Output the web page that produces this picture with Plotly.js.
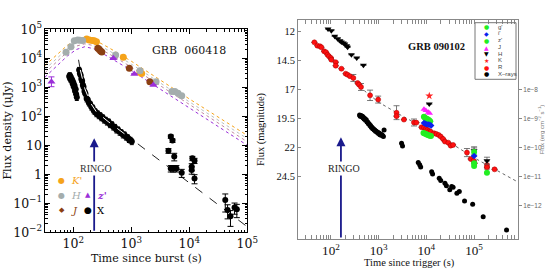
<!DOCTYPE html>
<html><head><meta charset="utf-8">
<script src="https://cdn.plot.ly/plotly-3.0.1.min.js"></script>
<style>html,body{margin:0;padding:0;background:#fff}#chart{width:545px;height:273px}</style>
</head><body><div id="chart"></div>
<script>
// ================= GRB 060418 (left panel), flux density in microJy =================
const kT = [170,189,213,230,251,728,1410,1510];
const kF = [46000,43000,41000,40000,37500,10800,3300,3000];
const hT = [75,91,104,119,130,145,537,1410,2670,5000,5650,6400,7400];
const hF = [16100,25000,40000,43000,42000,41000,13000,3700,1550,710,710,620,510];
const jT = [265,280,295,310,925,2090];
const jF = [22000,20000,18000,16500,4500,1550];
const zT = [42,490,1125,2400];
const zF = [1550,10000,2900,1200];
const zErrPlus = [740,0,0,0];
const zErrMinus = [500,0,0,0];
// X-ray early (prompt tail + flare + decay)
const xeT = [85,87,89,91,93,96,98,100,102,105,107,110,112,115,126,130,134,138,142,146,150,156,162,170,178,186,195,205,215,226,238,250,262,275,290,305,320,340,360,380,405,430,460,490,520,555,590,630,670,715,760,810,860,910,960,1020];
const xeF = [2340,2600,1950,2200,1700,1800,1300,1450,1050,1150,740,850,580,450,3980,3000,2600,1900,1650,1200,1050,720,600,400,370,290,270,210,200,155,148,124,126,106,108,90,92,75,76,64,66,52,53,43,43,34,35,28.5,28,23,23.5,19.5,19,16,15.5,13.5];
// X-ray late
const xlT = [4370,4800,5130,5500,4790,5250,6000,7400,11300,12300,11000,11000,12300,41700,45700,51300,60300,66000];
const xlF = [6.5,20,14.5,4.1,1.6,1.6,1.6,1.13,3.55,2.95,1.82,1.41,0.72,0.13,0.059,0.036,0.072,0.062];
const xlErr = [1.2,2.5,2,1.2,0.4,0.4,0.4,0.35,0.6,0.6,0.5,0.4,0.25,0.08,0.03,0.02,0.03,0.03];
// Model curves
const modelT = [32.5,50,79,112,158,224,398,1000,10000,100000];
const modelK = [5620,12600,28200,44700,53700,44700,24000,7940,398,21.9];
const modelH = [4170,9550,21400,33900,41700,35500,19100,6310,316,17.0];
const modelJ = [3160,7240,16600,26300,31600,27500,14800,5010,251,13.2];
const modelZ = [2240,5250,12000,20000,25100,21400,11500,3800,191,10];
const xModelT = [123,132,158,200,251,398,631,1000,10000,100000];
const xModelF = [8910,3980,891,282,141,66,33,16.6,0.5,0.0155];
const ringoLeftT = 229, ringoLeftTop = 17.4, ringoLeftBottom = 0.01;

// ================= GRB 090102 (right panel), magnitudes =================
const rT = [45,52,59,63,72,79,85,91,100,102,126,126,166,204,224,251,295,363,389,427,661,977,2370,2370,3390,5500,6170,7940,8910,9770,10500,11500,12300,14500,16200,18200,20000,22400,24500,28800,32400,36300,70800,85100,97700,102000,186000,186000,269000];
const rM = [12.92,13.21,13.26,13.35,13.69,13.78,13.99,14.13,14.27,14.42,14.64,14.94,15.2,15.63,15.72,15.85,16.0,16.43,16.58,16.78,17.5,17.87,19.0,19.3,19.6,19.85,19.86,20.26,20.29,20.40,20.49,20.58,20.64,20.78,20.84,20.93,21.07,21.27,21.5,21.59,21.85,21.79,22.45,23.0,23.15,23.37,23.52,23.72,23.9];
const rErr = [0,0,0,0,0,0,0,0,0,0,0,0,0,0,0,0,0.3,0,0,0.3,0.45,0.3,0.6,0,0,0.3,0,0,0,0,0,0,0,0,0,0,0,0,0,0,0,0,0.35,0,0,0,0.35,0,0];
const hRT = [87,102,120,138,155,166,182,195,214,224,269,347,479,11500,100000,186000];
const hRM = [11.77,11.91,12.40,12.60,12.78,12.89,12.98,13.06,13.21,13.35,13.99,14.27,14.9,18.25,22.3,23.15];
const hRErr = [0,0,0,0,0,0,0,0,0,0,0,0,0,0,0.35,0.3];
const kRT = [11500];
const kRM = [17.55];
const jRT = [8910,9770,11000,11700];
const jRM = [18.70,18.82,18.96,19.05];
const zRT = [8900,9300,9800,10300,10800,11400,12000,100000];
const zRM = [19.35,19.45,19.5,19.55,19.6,19.65,19.75,22.4];
const zRErr = [0,0,0,0,0,0,0,0.35];
const iRT = [8900,9500,10200,11000,11800,12600,100000];
const iRM = [19.9,19.95,20.0,20.02,20.05,20.1,22.75];
const gRT = [8700,9200,9800,10400,11100,11800,12500,100000,100000,186000];
const gRM = [20.75,20.8,20.85,20.9,20.95,21.0,21.02,23.37,23.6,24.2];
// X-rays, erg cm^-2 s^-1
const xrT = [398,410,427,440,457,470,479,495,513,530,550,570,589,610,631,655,676,700,724,750,776,805,832,860,891,925,955,990,1023,1060,1096,1135,1175,1215,1259,1300,3020,3160,6760,7240,7590,12900,13500,18600,20000,24500,26300,30900,33900,36300,43600,49000,63100,93300,155000,479000];
const xrF = [1.32e-9,1.20e-9,1.26e-9,1.15e-9,1.20e-9,1.05e-9,1.10e-9,9.55e-10,1.0e-9,8.7e-10,9.1e-10,7.6e-10,7.6e-10,6.6e-10,6.6e-10,5.75e-10,5.75e-10,5.0e-10,5.0e-10,4.37e-10,4.37e-10,3.98e-10,3.98e-10,3.63e-10,3.63e-10,3.31e-10,3.31e-10,3.02e-10,3.16e-10,2.75e-10,2.88e-10,2.63e-10,2.75e-10,2.51e-10,2.40e-10,4.0e-10,1.38e-10,1.12e-10,3.0e-11,2.5e-11,2.1e-11,1.45e-11,1.2e-11,8.5e-12,7.1e-12,5.75e-12,4.7e-12,3.4e-12,4.4e-12,4.2e-12,2.6e-12,3.0e-12,1.4e-12,1.07e-12,4.0e-13,1.4e-13];
const rModelT = [224,501,1000,3160,10000,31600,100000,832000];
const rModelM = [15.55,17.1,18.1,19.3,20.4,21.6,22.9,25.0];
const ringoRightT = 162, ringoRightTop = 21.13, ringoRightBottom = 29.92;
const magTicks = [12,14.5,17,19.5,22,24.5];
const fluxTicks = [1e-8,1e-9,1e-10,1e-11,1e-12];
const fluxTickText = ['1e\u22128','1e\u22129','1e\u221210','1e\u221211','1e\u221212'];

// ================= colours =================
const cK = '#f5a31a', cH = '#a4adad', cJ = '#8b3f12', cZ = '#9b2fd8';
const navy = '#1a1a8c';

const L = (t, f, color, dash, width) => ({x:t, y:f, xaxis:'x', yaxis:'y', mode:'lines', type:'scatter', line:{color:color, dash:dash, width:width||1}, hoverinfo:'skip'});
const traces = [
  L(modelT, modelK, cK, 'dot'),
  L(modelT, modelH, '#b9c1c1', 'dot'),
  L(modelT, modelJ, '#c08aa0', 'dot'),
  L(modelT, modelZ, cZ, 'dot'),
  L(xModelT, xModelF, '#222', 'dash'),
  {x:kT, y:kF, xaxis:'x', yaxis:'y', mode:'markers', type:'scatter', marker:{color:cK, size:7}},
  {x:hT, y:hF, xaxis:'x', yaxis:'y', mode:'markers', type:'scatter', marker:{color:cH, size:7}},
  {x:jT, y:jF, xaxis:'x', yaxis:'y', mode:'markers', type:'scatter', marker:{color:cJ, size:7}},
  {x:zT, y:zF, xaxis:'x', yaxis:'y', mode:'markers', type:'scatter', marker:{color:cZ, size:7, symbol:'triangle-up'},
   error_y:{type:'data', symmetric:false, array:zErrPlus, arrayminus:zErrMinus, color:cZ, thickness:1, width:3}},
  {x:xeT, y:xeF, xaxis:'x', yaxis:'y', mode:'markers', type:'scatter', marker:{color:'#000', size:6},
   error_y:{type:'percent', value:22, color:'#000', thickness:1, width:2}},
  {x:xlT, y:xlF, xaxis:'x', yaxis:'y', mode:'markers', type:'scatter', marker:{color:'#000', size:6},
   error_y:{type:'data', array:xlErr, color:'#000', thickness:1, width:3}},
  L(xModelT.slice(1,8), xModelF.slice(1,8), '#ffffff', 'dash'),
  // right panel
  {x:rModelT, y:rModelM, xaxis:'x2', yaxis:'y2', mode:'lines', type:'scatter', line:{color:'#666', dash:'dot', width:1}},
  {x:xrT, y:xrF, xaxis:'x2', yaxis:'y3', mode:'markers', type:'scatter', marker:{color:'#000', size:5}},
  {x:rT, y:rM, xaxis:'x2', yaxis:'y2', mode:'markers', type:'scatter', marker:{color:'#ff1010', size:5, line:{color:'#a00', width:0.5}},
   error_y:{type:'data', array:rErr, color:'#555', thickness:0.8, width:3}},
  {x:hRT, y:hRM, xaxis:'x2', yaxis:'y2', mode:'markers', type:'scatter', marker:{color:'#000', size:6, symbol:'triangle-down'},
   error_y:{type:'data', array:hRErr, color:'#555', thickness:0.8, width:3}},
  {x:gRT, y:gRM, xaxis:'x2', yaxis:'y2', mode:'markers', type:'scatter', marker:{color:'#22ee22', size:6}},
  {x:zRT, y:zRM, xaxis:'x2', yaxis:'y2', mode:'markers', type:'scatter', marker:{color:'#22ee22', size:6},
   error_y:{type:'data', array:zRErr, color:'#555', thickness:0.8, width:3}},
  {x:iRT, y:iRM, xaxis:'x2', yaxis:'y2', mode:'markers', type:'scatter', marker:{color:'#0a20ee', size:5, symbol:'diamond'}},
  {x:jRT, y:jRM, xaxis:'x2', yaxis:'y2', mode:'markers', type:'scatter', marker:{color:'#ff22ff', size:6, symbol:'triangle-up'}},
  {x:kRT, y:kRM, xaxis:'x2', yaxis:'y2', mode:'markers', type:'scatter', marker:{color:'#ff2222', size:6, symbol:'star'}}
];

const fL = 'DejaVu Serif', fR = 'Liberation Serif';
const P = (px) => px/545, Q = (py) => 1 - py/273;
const ann = [];
const txt = (px, py, text, opt) => ann.push(Object.assign({xref:'paper', yref:'paper', x:P(px), y:Q(py), text:text, showarrow:false, xanchor:'center', yanchor:'middle'}, opt));
// axis titles
txt(8, 130.6, 'Flux density (\u03bcJy)', {textangle:-90, font:{family:fL, size:11, color:'#111'}});
txt(146.5, 258, 'Time since burst (s)', {font:{family:fL, size:11, color:'#111'}});
txt(189, 50.5, 'GRB  060418', {font:{family:fL, size:11, color:'#111'}});
txt(409, 262.5, 'Time since trigger (s)', {font:{family:fR, size:10.5, color:'#111'}});
txt(436, 46, '<b>GRB 090102</b>', {font:{family:fR, size:10.5, color:'#111'}});
// RINGO arrows
ann.push({xref:'x', yref:'y', axref:'x', ayref:'y', x:Math.log10(ringoLeftT), y:Math.log10(ringoLeftTop), ax:Math.log10(ringoLeftT), ay:Math.log10(ringoLeftBottom), text:'', showarrow:true, arrowhead:2, arrowsize:1, arrowwidth:1.8, arrowcolor:navy});
ann.push({xref:'x2', yref:'y2', axref:'x2', ayref:'y2', x:Math.log10(ringoRightT), y:ringoRightTop, ax:Math.log10(ringoRightT), ay:ringoRightBottom, text:'', showarrow:true, arrowhead:2, arrowsize:1, arrowwidth:1.8, arrowcolor:navy});
txt(96.3, 168.3, 'RINGO', {bgcolor:'#fff', font:{family:fR, size:10, color:'#333'}});
txt(344.3, 168.3, 'RINGO', {bgcolor:'#fff', font:{family:fR, size:10, color:'#222'}});
// left legend
txt(61.7, 180.7, '\u25cf', {font:{family:'DejaVu Sans', size:8, color:cK}});
txt(68.5, 180.7, "<i>K'</i>", {xanchor:'left', font:{family:fL, size:10, color:cK}});
txt(61.7, 195, '\u25cf', {font:{family:'DejaVu Sans', size:8, color:cH}});
txt(68.5, 195, '<i>H</i>', {xanchor:'left', font:{family:fL, size:10, color:cH}});
txt(61.7, 210, '\u25c6', {font:{family:'DejaVu Sans', size:7, color:cJ}});
txt(68.5, 210, '<i>J</i>', {xanchor:'left', font:{family:fL, size:10, color:cJ}});
txt(88.3, 194.5, '\u25b2', {font:{family:'DejaVu Sans', size:7, color:cZ}});
txt(94.5, 195, "<b><i>z'</i></b>", {xanchor:'left', font:{family:fL, size:10, color:cZ}});
txt(88.3, 210, '\u25cf', {font:{family:'DejaVu Sans', size:9, color:'#000'}});
txt(95, 210, 'X', {xanchor:'left', font:{family:fL, size:10, color:'#000'}});
// right legend
const legSym = ['\u25cf','\u25c6','\u25cf','\u25b2','\u25bc','\u2605','\u25cf','\u25cf'];
const legCol = ['#22ee22','#0a20ee','#22ee22','#ff22ff','#000','#ff2222','#ff1010','#000'];
const legTxt = ["g'","i'","z'",'J','H','K','R','X\u2013rays'];
const legY = [26.7,33.3,40,47,53.7,60.3,67,74];
for (let i=0;i<legTxt.length;i++){
  txt(486.7, legY[i], legSym[i], {font:{family:'DejaVu Sans', size:6, color:legCol[i]}});
  txt(495.5, legY[i], legTxt[i], {xanchor:'left', font:{family:'Liberation Sans', size:6, color:'#444'}});
}

const axL = {type:'log', dtick:1, exponentformat:'power', ticks:'inside', ticklen:5, tickwidth:1, tickcolor:'#000',
  showline:true, linecolor:'#000', linewidth:1, mirror:'allticks', showgrid:false, zeroline:false,
  tickfont:{family:fL, size:10, color:'#111'},
  minor:{ticks:'inside', ticklen:2.5, dtick:'D1', tickcolor:'#000', showgrid:false}};
const gray = '#888';
const layout = {
  width:545, height:273, margin:{l:0,r:0,t:0,b:0}, paper_bgcolor:'#fff', plot_bgcolor:'#fff', showlegend:false,
  shapes:[{type:'rect', xref:'paper', yref:'paper', x0:P(475), x1:P(516), y0:Q(79.3), y1:Q(22.7), line:{color:'#777', width:1}, fillcolor:'rgba(255,255,255,0)'}],
  xaxis: Object.assign({}, axL, {domain:[P(45), P(247.3)], range:[1.512, 5.0], anchor:'y'}),
  yaxis: Object.assign({}, axL, {domain:[Q(232.3), Q(29.3)], range:[-2, 5], anchor:'x'}),
  xaxis2: {type:'log', domain:[P(298), P(518)], range:[1.31, 5.92], anchor:'y2', dtick:1, exponentformat:'power',
    ticks:'inside', ticklen:4, tickcolor:gray, showline:true, linecolor:gray, linewidth:1, mirror:'allticks', showgrid:false, zeroline:false,
    tickfont:{family:fR, size:10.5, color:'#111'},
    minor:{ticks:'inside', ticklen:2, dtick:'D1', tickcolor:gray, showgrid:false}},
  yaxis2: {domain:[Q(239), Q(20)], range:[29.92, 10.99], anchor:'x2', tickmode:'array', tickvals:magTicks,
    ticktext:magTicks.map(String), ticks:'inside', ticklen:3, tickcolor:gray, showline:true, linecolor:gray, linewidth:1,
    mirror:true, showgrid:false, zeroline:false, tickfont:{family:fR, size:10.5, color:'#111'},
    title:{text:'Flux (magnitude)', font:{family:fR, size:10.5, color:'#111'}, standoff:9}},
  yaxis3: {type:'log', overlaying:'y2', side:'right', anchor:'x2', range:[-13.168, -5.596], tickmode:'array',
    tickvals:fluxTicks, ticktext:fluxTickText, ticks:'outside', ticklen:3, tickcolor:gray, showline:true, linecolor:gray,
    showgrid:false, zeroline:false, tickfont:{family:'Liberation Sans', size:6.5, color:'#666'},
    title:{text:'Flux (erg cm<sup>\u22122</sup> s<sup>\u22121</sup>)', font:{family:'Liberation Sans', size:6, color:'#777'}, standoff:1}},
  annotations: ann
};
Plotly.newPlot('chart', traces, layout, {staticPlot:true, displayModeBar:false});
</script></body></html>
